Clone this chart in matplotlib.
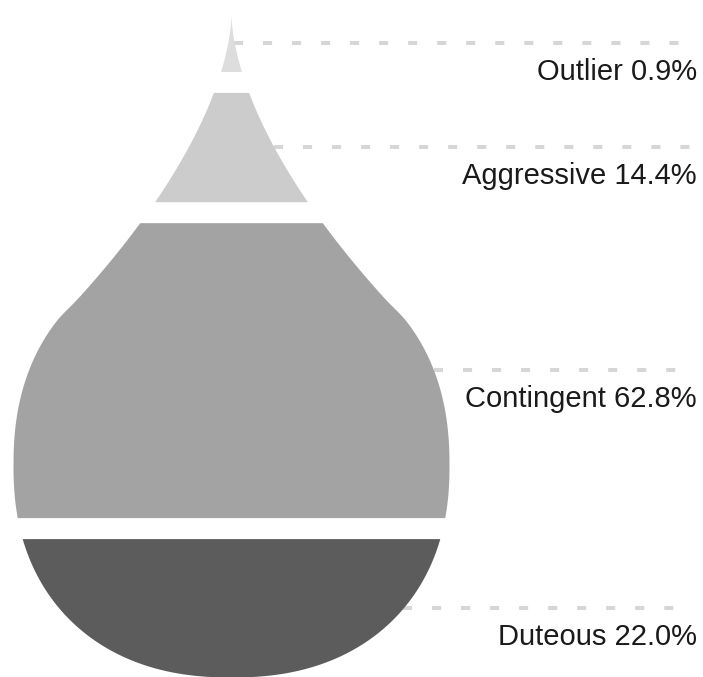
import numpy as np
import matplotlib
matplotlib.use("Agg")
import matplotlib.pyplot as plt

plt.rcParams['font.family'] = ['Liberation Sans', 'DejaVu Sans']
plt.rcParams['lines.scale_dashes'] = False

# data, top slice first
segments = ['Outlier', 'Aggressive', 'Contingent', 'Duteous']
shares = [0.9, 14.4, 62.8, 22.0]
colors = ['#dddddd', '#cccccc', '#a3a3a3', '#5c5c5c']

# drop geometry (pixel-like data units, y up from the bottom of the drop)
W, H = 703, 677
cx = 231.0
tip = 663.0
gap = 21.0
base_frac = 0.36   # part of the height shared equally between slices

# body: superellipse, taper: power curve down from the tip
a, n = 218.0, 2.25
hc, b_lo, b_up = 212.0, 212.0, 219.0
k, p = 0.01158, 1.68
blend_lo, blend_hi = 352.0, 382.0


def half_width(h):
    h = np.asarray(h, dtype=float)
    b = np.where(h < hc, b_lo, b_up)
    u = np.clip(np.abs(h - hc) / b, 0, 1)
    body = a * (1 - u**n) ** (1 / n)
    taper = k * np.clip(tip - h, 0, None) ** p
    t = np.clip((h - blend_lo) / (blend_hi - blend_lo), 0, 1)
    t = t * t * (3 - 2 * t)
    return (1 - t) * body + t * taper


avail = tip - gap * (len(shares) - 1)
vals = np.array(shares) / sum(shares)
heights = avail * (base_frac / len(shares) + (1 - base_frac) * vals)

fig = plt.figure(figsize=(W / 100, H / 100), dpi=100)
ax = fig.add_axes([0, 0, 1, 1])
ax.set_xlim(0, W)
ax.set_ylim(0, H)
ax.axis('off')

top = tip
for name, v, h, c in zip(segments, shares, heights, colors):
    y1 = top
    y0 = top - h
    ys = np.linspace(y0, y1, 400)
    w = half_width(ys)
    ax.fill_betweenx(ys, cx - w, cx + w, color=c, linewidth=0)

    ym = (y0 + y1) / 2
    xs = cx + float(half_width(ym))
    ax.plot([xs, 690], [ym, ym], color='#d6d6d6', lw=2.9,
            linestyle=(0, (6.5, 14.4)), solid_capstyle='butt',
            dash_capstyle='butt', zorder=0)
    ax.text(697, ym - 37, f'{name} {v:.1f}%', ha='right', va='baseline',
            fontsize=21, color='#1a1a1a')
    top = y0 - gap

fig.savefig('out.png', dpi=100)
